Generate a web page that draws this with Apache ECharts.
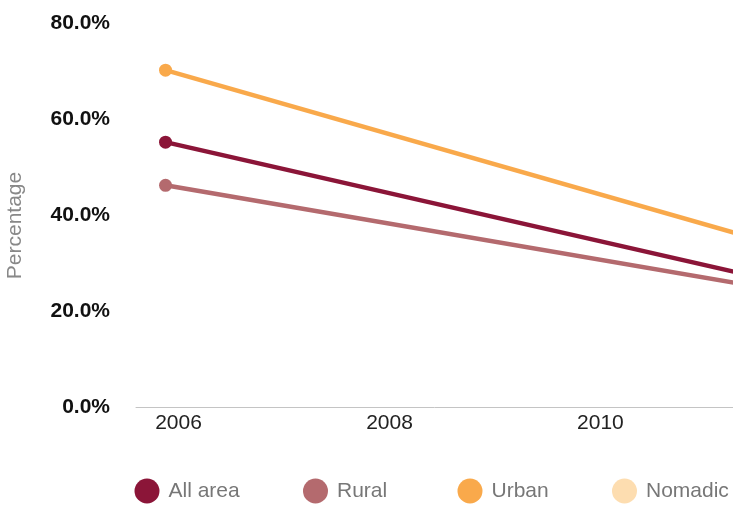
<!DOCTYPE html>
<html>
<head>
<meta charset="utf-8">
<script src="https://cdn.jsdelivr.net/npm/echarts@6/dist/echarts.min.js"></script>
<style>html,body{margin:0;padding:0;background:#fff}#c{width:733px;height:507px}</style>
</head>
<body>
<div id="c"></div>
<script>
const years = [2006, 2012];
const allArea = [55.3, 25.2];
const rural = [46.3, 23.7];
const urban = [70.3, 32.6];
const nomadic = [];
const tickYears = [2006, 2008, 2010];
const seriesNames = ['All area', 'Rural', 'Urban', 'Nomadic'];
const colors = ['#8B1538', '#B46A6E', '#F9A94B', '#FDDDB0'];
const legendCenters = [147, 315.5, 470, 624.5];

const FONT = 'Liberation Sans, Arial, sans-serif';
const chart = echarts.init(document.getElementById('c'), null, {renderer: 'canvas'});

function pairs(vals) { return vals.map((v, i) => [years[i], v]); }
const dataSets = [allArea, rural, urban, nomadic];

const option = {
  animation: false,
  textStyle: {fontFamily: FONT},
  grid: {left: 136, right: 0, top: 23.7, bottom: 99.7, containLabel: false, outerBoundsMode: 'none'},
  legend: seriesNames.map((n, i) => ({
    data: [n],
    left: legendCenters[i] - 12.5,
    top: 478.5,
    padding: 0,
    icon: 'circle',
    itemWidth: 25,
    itemHeight: 25,
    itemGap: 0,
    textStyle: {fontSize: 21, color: '#777', fontFamily: FONT, padding: [0, 0, 0, 4]}
  })),
  xAxis: {
    type: 'value',
    min: 2005.72,
    max: 2011.38,
    splitLine: {show: false},
    axisTick: {show: false},
    axisLine: {show: true, lineStyle: {color: '#c4c4c4', width: 1}},
    axisLabel: {
      customValues: tickYears,
      formatter: v => String(v),
      fontSize: 21,
      color: '#222',
      fontFamily: FONT,
      margin: 5,
      padding: [0, 0, 0, 26]
    }
  },
  yAxis: {
    type: 'value',
    min: 0,
    max: 80,
    interval: 20,
    splitLine: {show: false},
    axisTick: {show: false},
    axisLine: {show: false},
    axisLabel: {
      formatter: v => v.toFixed(1) + '%',
      fontSize: 21,
      fontWeight: 'bold',
      color: '#111',
      fontFamily: FONT,
      margin: 26,
      padding: [0, 0, 6, 0]
    },
    name: 'Percentage',
    nameLocation: 'middle',
    nameGap: 110,
    nameTextStyle: {fontSize: 21, color: '#888', fontFamily: FONT, padding: [0, 20, 0, 0]}
  },
  series: seriesNames.map((n, i) => ({
    name: n,
    type: 'line',
    data: pairs(dataSets[i]),
    symbol: 'circle',
    symbolSize: 13,
    showSymbol: true,
    clip: true,
    lineStyle: {width: 4.5, color: colors[i]},
    itemStyle: {color: colors[i]},
    emphasis: {disabled: true}
  }))
};
chart.setOption(option);
</script>
</body>
</html>
